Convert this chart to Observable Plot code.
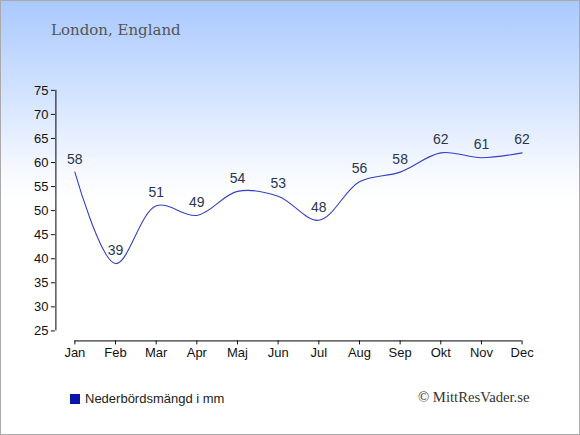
<!DOCTYPE html>
<html><head><meta charset="utf-8">
<script src="https://cdn.jsdelivr.net/npm/d3@7"></script>
<script src="https://cdn.jsdelivr.net/npm/@observablehq/plot@0.6"></script>
<style>
html,body{margin:0;padding:0;background:#fff;}
#wrap{position:relative;width:580px;height:435px;box-sizing:border-box;border:1px solid #aaa;background:linear-gradient(to bottom,#a9c9ff 0px,#d6e5ff 100px,#f6f9ff 170px,#ffffff 200px,#ffffff 435px);overflow:hidden;}
#title{position:absolute;left:50px;top:20px;font-family:"DejaVu Serif",serif;font-size:15px;color:#555;}
#chart{position:absolute;left:-1px;top:-1px;}
#legend{position:absolute;left:69px;top:390px;font-family:"Liberation Sans",Arial,sans-serif;font-size:13px;color:#222;display:flex;align-items:center;}
#legend span.sw{display:inline-block;width:10px;height:10px;background:#0a16a8;margin-right:5px;}
#credit{position:absolute;left:417px;top:388px;font-family:"Liberation Serif",serif;font-size:14.7px;color:#333;}
</style></head>
<body>
<div id="wrap">
  <div id="chart"></div>
  <div id="title">London, England</div>
  <div id="legend"><span class="sw"></span>Nederbördsmängd i mm</div>
  <div id="credit">© MittResVader.se</div>
</div>
<script>
const months = ["Jan","Feb","Mar","Apr","Maj","Jun","Jul","Aug","Sep","Okt","Nov","Dec"];
const values = [58,39,51,49,54,53,48,56,58,62,61,62];
const yTicks = [25,30,35,40,45,50,55,60,65,70,75];
const data = months.map((m,i)=>({month:m, value:values[i]}));
const xAxisLine = [{y:25, from:months[0], to:months[months.length-1]}];
const yAxisLine = [{x:months[0], from:25, to:75}];

const chart = Plot.plot({
  width:580, height:435,
  marginLeft:55, marginTop:90, marginBottom:94, marginRight:58,
  style:{background:"transparent", fontFamily:"'Liberation Sans', Arial, sans-serif", fontSize:"13px", color:"#111", overflow:"visible"},
  x:{type:"point", domain:months, range:[74.5,522.5], padding:0, round:false},
  y:{domain:[25,75], range:[331,90]},
  marks:[
    Plot.axisY({ticks:yTicks, tickSize:4, tickPadding:3, fontSize:13, tickFormat:d=>String(d), label:null}),
    Plot.ruleX(yAxisLine, {x:"x", y1:"from", y2:"to", dx:-19, stroke:"#000", strokeWidth:1}),
    Plot.axisX({tickSize:4, tickPadding:3, fontSize:13, label:null}),
    Plot.ruleY(xAxisLine, {y:"y", x1:"from", x2:"to", dy:10, stroke:"#000", strokeWidth:1}),
    Plot.line(data, {x:"month", y:"value", curve:"catmull-rom", stroke:"#3340c4", strokeWidth:1.1}),
    Plot.text(data, {x:"month", y:"value", text:d=>String(d.value), dy:-13, fill:"#2a3550", fontSize:14})
  ]
});
document.getElementById("chart").appendChild(chart);
</script>
</body></html>
